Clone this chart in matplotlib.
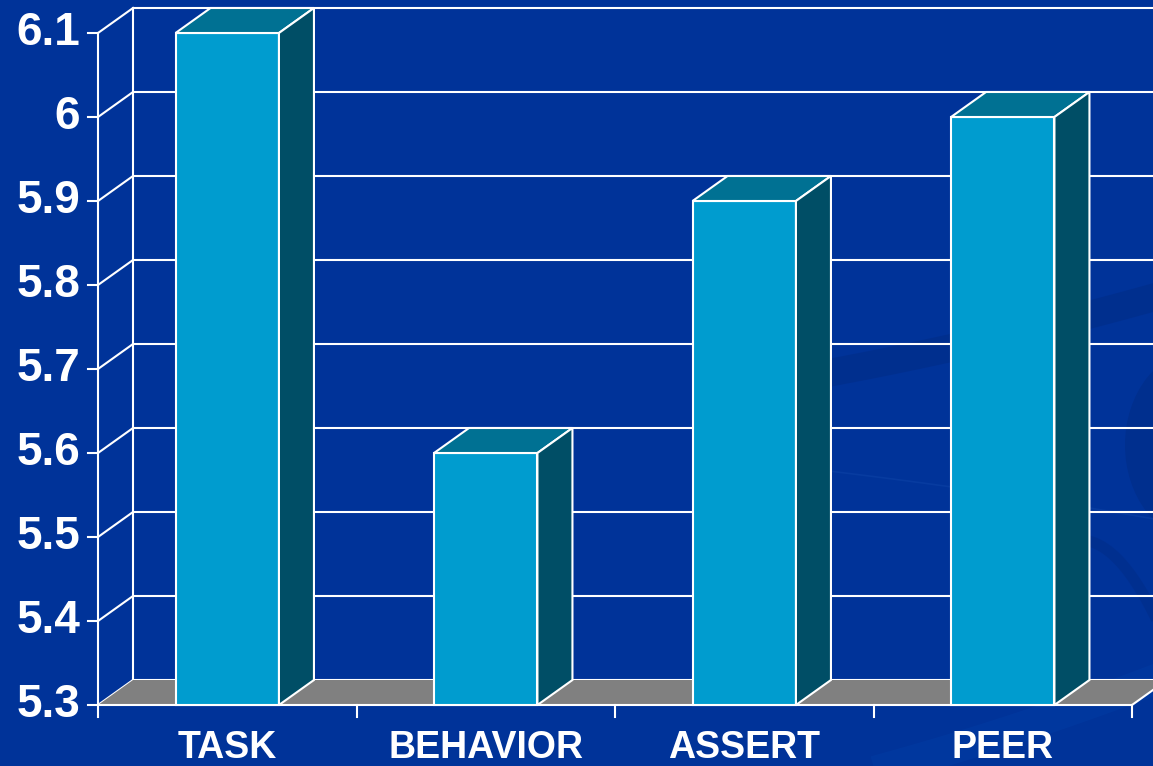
import matplotlib
matplotlib.use("Agg")
import matplotlib.pyplot as plt
from matplotlib.patches import Polygon, Ellipse
import numpy as np

# ---- data ----
categories = ["TASK", "BEHAVIOR", "ASSERT", "PEER"]
values = [6.1, 5.6, 5.9, 6.0]
y_ticks = [5.3, 5.4, 5.5, 5.6, 5.7, 5.8, 5.9, 6.0, 6.1]
y_tick_labels = ["5.3", "5.4", "5.5", "5.6", "5.7", "5.8", "5.9", "6", "6.1"]

# ---- styling ----
BG = "#003399"
FRONT = "#009CCF"
TOP = "#007193"
SIDE = "#004E66"
FLOOR = "#808080"
LINE = "white"
LW = 1.5
FONT = "Liberation Sans"

W_PX, H_PX = 1153, 766
fig = plt.figure(figsize=(W_PX / 100, H_PX / 100), dpi=100, facecolor=BG)
ax = fig.add_axes([0, 0, 1, 1])
ax.set_facecolor(BG)
ax.axis("off")

# plot frame placement (pixels): category axis spans 98..1132, value axis 705..33
x0_px, cat_px = 98, 258.5
base_px, unit_px = 705, 840.0
ymin, ymax = y_ticks[0], y_ticks[-1]
ax.set_xlim(-0.5 - x0_px / cat_px, -0.5 + (W_PX - x0_px) / cat_px)
ax.set_ylim(ymin - (H_PX - base_px) / unit_px, ymin + base_px / unit_px)

# 3-D depth offset
dx = 35 / cat_px
dy = 25 / unit_px
n = len(categories)
xl, xr = -0.5, n - 0.5


# ---- faint background swooshes (slide decoration, figure-fraction coords) ----
def fx(px):
    return np.asarray(px, float) / W_PX


def fy(py):
    return 1 - np.asarray(py, float) / H_PX


t = np.linspace(0, 1, 60)
sx = 760 + 420 * t
sy = 385 - 95 * t + 25 * t * (1 - t)
fig.add_artist(plt.Line2D(fx(sx), fy(sy), transform=fig.transFigure,
                          color="#002E8C", lw=20, alpha=0.8, zorder=0))
fig.add_artist(Ellipse((fx(1200), fy(445)), 150 / W_PX, 190 / H_PX,
                       transform=fig.transFigure, facecolor="#002F8E",
                       edgecolor="none", zorder=0))
ax2x = 820 + 340 * t
ax2y = 470 + 40 * t + 10 * t * t
fig.add_artist(plt.Line2D(fx(ax2x), fy(ax2y), transform=fig.transFigure,
                          color="#0A3FA3", lw=1.2, alpha=0.7, zorder=0))
bx = 860 + 320 * t
by = 775 - 85 * t - 20 * t * t
fig.add_artist(plt.Line2D(fx(bx), fy(by), transform=fig.transFigure,
                          color="#00389F", lw=22, alpha=0.9, zorder=0))
cx = 1080 + 90 * t
cy = 540 + 110 * t * t
fig.add_artist(plt.Line2D(fx(cx), fy(cy), transform=fig.transFigure,
                          color="#002E8C", lw=8, alpha=0.7, zorder=0))

# back wall gridlines and left wall
for tk in y_ticks:
    ax.plot([xl + dx, xr + dx + 0.2], [tk + dy, tk + dy], color=LINE, lw=LW, zorder=1,
            solid_capstyle="butt")
    ax.plot([xl, xl + dx], [tk, tk + dy], color=LINE, lw=LW, zorder=1)
    ax.plot([xl - 10 / cat_px, xl], [tk, tk], color=LINE, lw=LW, zorder=1)
ax.plot([xl + dx, xl + dx], [ymin + dy, ymax + dy], color=LINE, lw=LW, zorder=1)
ax.plot([xl, xl], [ymin, ymax], color=LINE, lw=LW, zorder=1)

# floor
ax.add_patch(Polygon([(xl, ymin), (xr, ymin), (xr + dx, ymin + dy), (xl + dx, ymin + dy)],
                     closed=True, facecolor=FLOOR, edgecolor="none", zorder=2))
ax.plot([xl, xr, xr + dx], [ymin, ymin, ymin + dy], color=LINE, lw=LW, zorder=2)

# category tick marks
for k in range(n + 1):
    xt = k - 0.5
    ax.plot([xt, xt], [ymin, ymin - 12 / unit_px], color=LINE, lw=LW, zorder=2)

# bars
bw = 0.4
for i, v in enumerate(values):
    l, r = i - bw / 2, i + bw / 2
    ax.add_patch(Polygon([(l, ymin), (r, ymin), (r, v), (l, v)], closed=True,
                         facecolor=FRONT, edgecolor=LINE, lw=LW, zorder=3))
    ax.add_patch(Polygon([(l, v), (r, v), (r + dx, v + dy), (l + dx, v + dy)], closed=True,
                         facecolor=TOP, edgecolor=LINE, lw=LW, zorder=3))
    ax.add_patch(Polygon([(r, ymin), (r + dx, ymin + dy), (r + dx, v + dy), (r, v)],
                         closed=True, facecolor=SIDE, edgecolor=LINE, lw=LW, zorder=3))

# value labels
for tk, lab in zip(y_ticks, y_tick_labels):
    ax.text(xl - 18 / cat_px, tk, lab, ha="right", va="center", color="white",
            fontsize=33, fontweight="bold", family=FONT, zorder=4)

# category labels
for i, c in enumerate(categories):
    ax.text(i, ymin - 43 / unit_px, c, ha="center", va="center", color="white",
            fontsize=27, fontweight="bold", family=FONT, zorder=4)

fig.savefig("out.png", dpi=100, facecolor=BG)
